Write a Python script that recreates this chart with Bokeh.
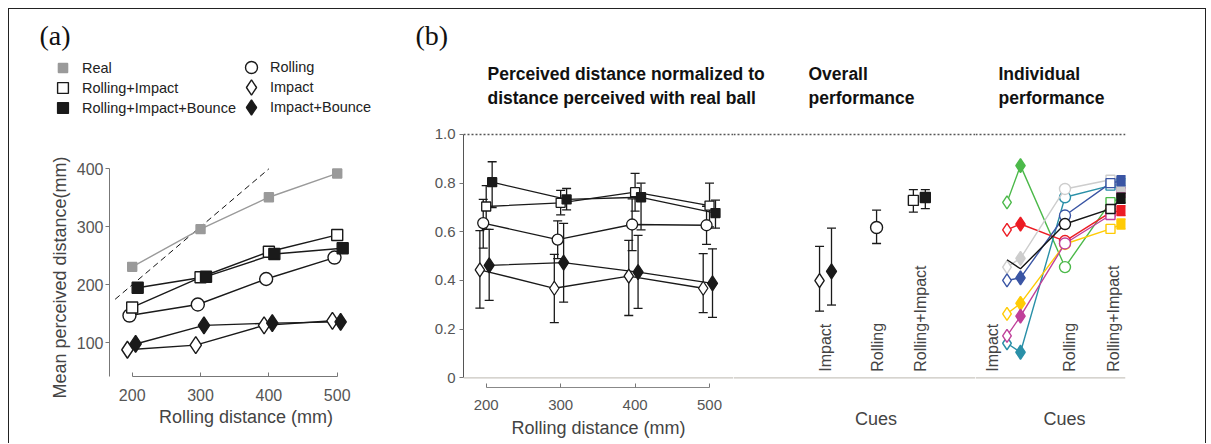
import math
from bokeh.plotting import figure
from bokeh.models import (ColumnDataSource, Range1d, FactorRange, Span, Whisker, TeeHead,
                          Legend, LegendItem, Label, FixedTicker, Div)
from bokeh.layouts import row, column
from bokeh.embed import file_html
from bokeh.resources import INLINE
from bokeh.core.properties import value

FONT = "Liberation Sans"
SERIF = "Liberation Serif"
INK = "#1a1a1a"

# ---------------- data: panel (a) ----------------
distances = [200, 300, 400, 500]
real = [231, 296, 351, 392]
rolling_impact = [161, 213, 257, 286]
rolling_impact_bounce = [195, 214, 253, 263]
rolling = [147, 166, 210, 247]
impact = [88, 96, 130, 138]
impact_bounce = [98, 130, 134, 136]
identity_line = [175, 400]
a_yticks = [100, 200, 300, 400]

# ---------------- data: panel (b) normalized ----------------
n_impact = [0.444, 0.368, 0.418, 0.368]
n_impact_lo = [0.286, 0.227, 0.256, 0.268]
n_impact_hi = [0.605, 0.507, 0.565, 0.51]
n_impact_bounce = [0.462, 0.473, 0.434, 0.388]
n_impact_bounce_lo = [0.318, 0.311, 0.285, 0.248]
n_impact_bounce_hi = [0.61, 0.635, 0.585, 0.53]
n_rolling = [0.636, 0.568, 0.63, 0.627]
n_rolling_lo = [0.533, 0.49, 0.523, 0.548]
n_rolling_hi = [0.733, 0.645, 0.735, 0.705]
n_rolling_impact = [0.704, 0.719, 0.763, 0.708]
n_rolling_impact_lo = [0.61, 0.67, 0.685, 0.62]
n_rolling_impact_hi = [0.79, 0.77, 0.84, 0.80]
n_rolling_impact_bounce = [0.804, 0.733, 0.742, 0.677]
n_rolling_impact_bounce_lo = [0.70, 0.69, 0.608, 0.615]
n_rolling_impact_bounce_hi = [0.888, 0.778, 0.80, 0.73]
b_yticks = [0, 0.2, 0.4, 0.6, 0.8, 1.0]

# ---------------- data: overall / individual ----------------
cues = ["Impact", "Rolling", "Rolling+Impact"]
conditions = ["Impact", "Impact+Bounce", "Rolling", "Rolling+Impact", "Rolling+Impact+Bounce"]
condition_cue = ["Impact", "Impact", "Rolling", "Rolling+Impact", "Rolling+Impact"]
overall_mean = [0.399, 0.437, 0.618, 0.729, 0.741]
overall_lo = [0.274, 0.299, 0.552, 0.681, 0.695]
overall_hi = [0.54, 0.615, 0.689, 0.773, 0.773]

subj_green = [0.721, 0.872, 0.455, 0.722, 0.74]
subj_teal = [0.142, 0.105, 0.742, 0.79, 0.80]
subj_yellow = [0.263, 0.306, 0.55, 0.612, 0.632]
subj_red = [0.608, 0.632, 0.562, 0.68, 0.687]
subj_magenta = [0.172, 0.253, 0.552, 0.669, 0.762]
subj_gray = [0.455, 0.491, 0.776, 0.814, 0.786]
subj_blue = [0.40, 0.411, 0.667, 0.80, 0.81]
subj_black = [0.485, 0.448, 0.632, 0.694, 0.738]

# ---------------- styles ----------------
A_STYLE = {
    "Real": dict(dx=0, marker="square", size=9, fill="#9a9a9a", line="#9a9a9a", lg=23),
    "Rolling+Impact": dict(dx=0, marker="square", size=11, fill="white", line=INK, lg=27),
    "Rolling+Impact+Bounce": dict(dx=8, marker="square", size=11, fill=INK, line=INK, lg=27),
    "Rolling": dict(dx=-4, marker="circle", size=13, fill="white", line=INK, lg=30),
    "Impact": dict(dx=-7, marker="diamond", size=17, fill="white", line=INK, lg=38),
    "Impact+Bounce": dict(dx=5, marker="diamond", size=17, fill=INK, line=INK, lg=38),
}
# legend slot (column, row) for each series; glyph centres in the strip's canvas pixels
LEGEND_SLOT = {"Real": (0, 0), "Rolling+Impact": (0, 1), "Rolling+Impact+Bounce": (0, 2),
               "Rolling": (1, 0), "Impact": (1, 1), "Impact+Bounce": (1, 2)}
LEGEND_COL_CX = [53, 242]
LEGEND_ROW_CY = [58, 78, 98]
LEGEND_TEXT_GAP = 19

B1_STYLE = {
    "Impact": dict(dx=-8.5, marker="diamond", size=14, fill="white"),
    "Impact+Bounce": dict(dx=4, marker="diamond", size=15, fill=INK),
    "Rolling": dict(dx=-4, marker="circle", size=11, fill="white"),
    "Rolling+Impact": dict(dx=0, marker="square", size=9, fill="white"),
    "Rolling+Impact+Bounce": dict(dx=8, marker="square", size=9, fill=INK),
}
B2_STYLE = {
    "Impact": dict(dx=0.24, marker="diamond", size=14, fill="white"),
    "Impact+Bounce": dict(dx=0.50, marker="diamond", size=15, fill=INK),
    "Rolling": dict(dx=0.48, marker="circle", size=12, fill="white"),
    "Rolling+Impact": dict(dx=0.28, marker="square", size=10, fill="white"),
    "Rolling+Impact+Bounce": dict(dx=0.54, marker="square", size=10, fill=INK),
}
B2_LABEL_DX = [0.37, 0.50, 0.43]
B3_STYLE = {
    "Impact": dict(dx=0.13, marker="diamond", size=13, filled=False),
    "Impact+Bounce": dict(dx=0.40, marker="diamond", size=14, filled=True),
    "Rolling": dict(dx=0.29, marker="circle", size=11, filled=False),
    "Rolling+Impact": dict(dx=0.20, marker="square", size=9, filled=False),
    "Rolling+Impact+Bounce": dict(dx=0.43, marker="square", size=10, filled=True),
}
B3_LABEL_DX = [-0.17, 0.38, 0.26]
SUBJECTS = [
    (subj_green, "#4cb94a", True), (subj_teal, "#2a90a8", True), (subj_yellow, "#ffcb05", True),
    (subj_red, "#ec1c24", True), (subj_magenta, "#c0409a", True), (subj_gray, "#cdcdcd", True),
    (subj_blue, "#3a55a4", True), (subj_black, "#151515", False),
]

ROW_H = 324
TOP_H = 110
INNER_W = 1196


def base_fig(**kw):
    p = figure(output_backend="svg", toolbar_location=None, title=None, **kw)
    p.outline_line_color = None
    p.grid.visible = False
    p.background_fill_color = "white"
    p.border_fill_color = "white"
    p.frame_align = False
    return p


def canvas_label(p, x, y, text, size="18px", font=FONT, style="normal", color="#444",
                 align="left", angle=0.0):
    p.add_layout(Label(x=x, y=y, x_units="canvas", y_units="canvas", text=text, angle=angle,
                       text_font=font, text_font_size=size, text_font_style=style,
                       text_color=color, text_align=align, text_baseline="middle"))


def style_axis(ax, tick_in=0, tick_out=4, label_size="15px"):
    ax.axis_line_color = "#777"
    ax.major_tick_line_color = "#777"
    ax.minor_tick_line_color = None
    ax.major_tick_in = tick_in
    ax.major_tick_out = tick_out
    ax.major_label_text_font = FONT
    ax.major_label_text_font_size = label_size
    ax.major_label_text_color = "#555"
    ax.axis_label_text_font = FONT
    ax.axis_label_text_font_size = "18px"
    ax.axis_label_text_font_style = "normal"
    ax.axis_label_text_color = "#444"


# panel (a) sources
a_series = {"Real": real, "Rolling+Impact": rolling_impact,
            "Rolling+Impact+Bounce": rolling_impact_bounce, "Rolling": rolling,
            "Impact": impact, "Impact+Bounce": impact_bounce}
a_src = {name: ColumnDataSource(dict(x=[d + A_STYLE[name]["dx"] for d in distances], y=ys))
         for name, ys in a_series.items()}

# ================= top strip: panel letters, legend, titles =================
top = base_fig(width=INNER_W, height=TOP_H, x_range=Range1d(0, 1), y_range=Range1d(0, 1),
               x_axis_location=None, y_axis_location=None,
               min_border_left=0, min_border_right=0, min_border_top=0, min_border_bottom=0)
for name, (ci, ri) in LEGEND_SLOT.items():
    st = A_STYLE[name]
    g = st["lg"]
    # same series, used in the strip only as the legend's glyph (its points fall outside the strip)
    r = top.scatter("x", "y", source=a_src[name], marker=st["marker"], size=st["size"],
                    fill_color=st["fill"], line_color=st["line"], line_width=1.4)
    top.add_layout(Legend(items=[LegendItem(label=name, renderers=[r])],
                          location=(round(LEGEND_COL_CX[ci] - g / 2),
                                    round(TOP_H - LEGEND_ROW_CY[ri] - g / 2)),
                          glyph_width=g, glyph_height=g, label_height=20,
                          label_standoff=max(0, round(LEGEND_TEXT_GAP - g / 2)),
                          padding=0, margin=0,
                          border_line_alpha=0, background_fill_alpha=0,
                          label_text_font=FONT, label_text_font_size="14.5px",
                          label_text_color="#222"))
canvas_label(top, 30, 26, "(a)", size="28px", font=SERIF, color="#111")
canvas_label(top, 406, 26, "(b)", size="28px", font=SERIF, color="#111")
for x, l1, l2 in [(478, "Perceived distance normalized to", "distance perceived with real ball"),
                  (799, "Overall", "performance"), (989, "Individual", "performance")]:
    canvas_label(top, x, 64, l1, size="17.5px", style="bold", color="#111")
    canvas_label(top, x, 88, l2, size="17.5px", style="bold", color="#111")

# ================= panel (a) =================
a_y0, a_y1 = 41.9, 483.3
pay = base_fig(width=101, height=ROW_H, x_range=Range1d(0, 1), y_range=Range1d(-58.1, a_y1),
               x_axis_location=None,
               min_border_left=100, min_border_right=0, min_border_top=1, min_border_bottom=9)
style_axis(pay.yaxis[0], tick_in=0, tick_out=4, label_size="16px")
pay.yaxis.ticker = FixedTicker(ticks=a_yticks)
pay.yaxis.bounds = (a_y0, a_yticks[-1])
pay.yaxis.axis_label = "Mean perceived distance(mm)"
pay.yaxis.major_label_standoff = 2
pay.yaxis.axis_label_standoff = 4

pa = base_fig(width=290, height=ROW_H, x_range=Range1d(168.24, 564.8), y_range=Range1d(a_y0, a_y1),
              y_axis_location=None,
              min_border_left=0, min_border_right=19, min_border_top=1, min_border_bottom=67)
style_axis(pa.xaxis[0], tick_in=4, tick_out=0, label_size="16px")
pa.xaxis.ticker = FixedTicker(ticks=distances)
pa.xaxis.bounds = (distances[0], distances[-1])
pa.xaxis.axis_label = "Rolling distance (mm)"
pa.xaxis.major_label_standoff = 12
pa.xaxis.axis_label_standoff = 3

pa.line(identity_line, identity_line, line_dash="6 4", line_color="#111", line_width=1)
for name in a_series:
    pa.line("x", "y", source=a_src[name], line_color=A_STYLE[name]["line"], line_width=1.4)
for name in ["Real", "Rolling", "Rolling+Impact", "Rolling+Impact+Bounce", "Impact", "Impact+Bounce"]:
    st = A_STYLE[name]
    pa.scatter("x", "y", source=a_src[name], marker=st["marker"], size=st["size"],
               fill_color=st["fill"], line_color=st["line"], line_width=1.4)


# ================= panel (b) =================
def ref_lines(p):
    p.add_layout(Span(location=0, dimension="width", line_color="#c9c6bf", line_width=1.3))
    p.add_layout(Span(location=1.0, dimension="width", line_color="#555", line_width=1.5,
                      line_dash="2 2"))


def whisker(p, src):
    p.add_layout(Whisker(source=src, base="x", lower="lo", upper="hi", dimension="height",
                         line_color=INK, line_width=1.3, level="underlay",
                         upper_head=TeeHead(size=9, line_color=INK, line_width=1.3),
                         lower_head=TeeHead(size=9, line_color=INK, line_width=1.3)))


# ---- b1: normalized vs rolling distance ----
pb1 = base_fig(width=333, height=ROW_H, x_range=Range1d(169.5, 532.2), y_range=Range1d(-0.0399, 1.0575),
               min_border_left=63, min_border_right=0, min_border_top=1, min_border_bottom=56)
style_axis(pb1.xaxis[0], tick_in=4, tick_out=0, label_size="15px")
style_axis(pb1.yaxis[0], tick_in=0, tick_out=4, label_size="15px")
pb1.xaxis.axis_line_color = "#888"
pb1.yaxis.axis_line_color = "#555"
pb1.xaxis.ticker = FixedTicker(ticks=distances)
pb1.yaxis.ticker = FixedTicker(ticks=b_yticks)
pb1.yaxis.major_label_overrides = {t: ("0" if t == 0 else f"{t:.1f}") for t in b_yticks}
pb1.xaxis.bounds = (distances[0], distances[-1])
pb1.yaxis.bounds = (0, 1.0)
pb1.xaxis.axis_label = "Rolling distance (mm)"
pb1.xaxis.major_label_standoff = 12
pb1.xaxis.axis_label_standoff = 5
pb1.yaxis.major_label_standoff = 4
ref_lines(pb1)

b1_series = [("Impact", n_impact, n_impact_lo, n_impact_hi),
             ("Impact+Bounce", n_impact_bounce, n_impact_bounce_lo, n_impact_bounce_hi),
             ("Rolling", n_rolling, n_rolling_lo, n_rolling_hi),
             ("Rolling+Impact", n_rolling_impact, n_rolling_impact_lo, n_rolling_impact_hi),
             ("Rolling+Impact+Bounce", n_rolling_impact_bounce, n_rolling_impact_bounce_lo,
              n_rolling_impact_bounce_hi)]
b1_sources = []
for name, ys, lo, hi in b1_series:
    st = B1_STYLE[name]
    src = ColumnDataSource(dict(x=[d + st["dx"] for d in distances], y=ys, lo=lo, hi=hi))
    b1_sources.append((name, src))
    pb1.line("x", "y", source=src, line_color=INK, line_width=1.3)
    whisker(pb1, src)
for name, src in b1_sources:
    st = B1_STYLE[name]
    pb1.scatter("x", "y", source=src, marker=st["marker"], size=st["size"],
                fill_color=st["fill"], line_color=INK, line_width=1.3)

# overall / individual share a y range whose frame reaches the bottom edge
yr23 = Range1d(-0.2701, 1.0575)


def cue_labels(p, dxs):
    p.text(x=[(c, d) for c, d in zip(cues, dxs)], y=[0] * len(cues), text=cues,
           angle=math.pi / 2, text_align="left", text_baseline="middle", y_offset=-6,
           text_font=value(FONT), text_font_size="16px", text_color="#444")


# ---- b2: overall ----
pb2 = base_fig(width=242, height=ROW_H, x_range=FactorRange(factors=cues, range_padding=0.754),
               y_range=yr23, x_axis_location=None, y_axis_location=None,
               min_border_left=0, min_border_right=0, min_border_top=1, min_border_bottom=0)
ref_lines(pb2)
src2 = ColumnDataSource(dict(
    x=[(c, B2_STYLE[k]["dx"]) for c, k in zip(condition_cue, conditions)],
    y=overall_mean, lo=overall_lo, hi=overall_hi))
whisker(pb2, src2)
for i, k in enumerate(conditions):
    st = B2_STYLE[k]
    pb2.scatter([src2.data["x"][i]], [overall_mean[i]], marker=st["marker"], size=st["size"],
                fill_color=st["fill"], line_color=INK, line_width=1.4)
cue_labels(pb2, B2_LABEL_DX)
canvas_label(pb2, 142.6, 299, "Cues", size="18px", color="#444", align="center")

# ---- b3: individual ----
pb3 = base_fig(width=230, height=ROW_H, x_range=FactorRange(factors=cues, range_padding=0.0),
               y_range=yr23, x_axis_location=None, y_axis_location=None,
               min_border_left=0, min_border_right=80, min_border_top=1, min_border_bottom=0)
ref_lines(pb3)
xs3 = [(c, B3_STYLE[k]["dx"]) for c, k in zip(condition_cue, conditions)]
for vals, color, diamonds in SUBJECTS:
    pb3.line(xs3, vals, line_color=color, line_width=1.4)
    for i, k in enumerate(conditions):
        st = B3_STYLE[k]
        if st["marker"] == "diamond" and not diamonds:
            continue
        pb3.scatter([xs3[i]], [vals[i]], marker=st["marker"], size=st["size"],
                    fill_color=color if st["filled"] else "white", line_color=color, line_width=1.4)
cue_labels(pb3, B3_LABEL_DX)
canvas_label(pb3, 89, 299, "Cues", size="18px", color="#444", align="center")


# ================= assemble with a thin frame on top/left/right =================
def rule(w, h):
    return Div(text="", width=w, height=h, margin=(0, 0, 0, 0),
               styles={"background-color": "#222"})


charts = row(pay, pa, pb1, pb2, pb3, spacing=0)
inner = column(top, charts, spacing=0)
body = row(rule(1, TOP_H + ROW_H), inner, rule(1, TOP_H + ROW_H), spacing=0)
layout = column(rule(INNER_W + 2, 1), body, spacing=0)
layout.margin = (8, 0, 0, 8)

open("out.html", "w").write(file_html(layout, INLINE))
